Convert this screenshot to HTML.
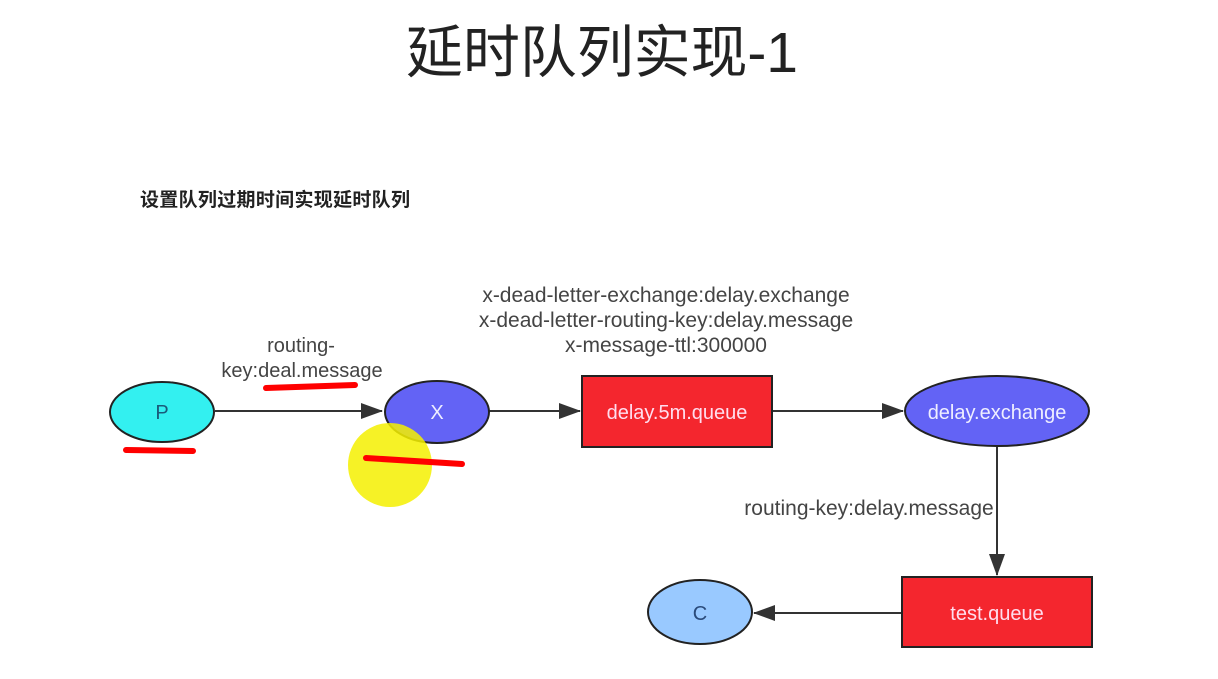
<!DOCTYPE html>
<html><head><meta charset="utf-8"><style>
body{margin:0;width:1218px;height:679px;background:#fff;overflow:hidden}
svg{display:block}
</style></head><body>
<svg width="1218" height="679" viewBox="0 0 1218 679" xmlns="http://www.w3.org/2000/svg">
<defs><marker id="b" markerWidth="22" markerHeight="16" refX="21" refY="8" orient="auto" markerUnits="userSpaceOnUse"><path d="M0,0 L22,8 L0,16 Z" fill="#333"/></marker></defs>
<text x="602" y="72" text-anchor="middle" font-family="Liberation Sans, Noto Sans CJK SC, sans-serif" font-size="57" fill="#222" textLength="392">延时队列实现-1</text>
<text x="140" y="206" font-family="Liberation Sans, Noto Sans CJK SC, sans-serif" font-size="19" font-weight="bold" fill="#222" textLength="270">设置队列过期时间实现延时队列</text>
<g font-family="Liberation Sans, sans-serif" font-size="21" fill="#444" text-anchor="middle">
<text x="301" y="352" font-size="20">routing-</text>
<text x="302" y="377" font-size="20">key:deal.message</text>
<text x="666" y="302">x-dead-letter-exchange:delay.exchange</text>
<text x="666" y="327">x-dead-letter-routing-key:delay.message</text>
<text x="666" y="352">x-message-ttl:300000</text>
<text x="869" y="515">routing-key:delay.message</text>
</g>
<g stroke="#333" stroke-width="2" fill="none">
<line x1="215" y1="411" x2="382" y2="411" marker-end="url(#b)"/>
<line x1="489" y1="411" x2="580" y2="411" marker-end="url(#b)"/>
<line x1="772" y1="411" x2="903" y2="411" marker-end="url(#b)"/>
<line x1="997" y1="447" x2="997" y2="575" marker-end="url(#b)"/>
<line x1="902" y1="613" x2="754" y2="613" marker-end="url(#b)"/>
</g>
<g stroke="#222" stroke-width="2">
<ellipse cx="162" cy="412" rx="52" ry="30" fill="#33f0f0"/>
<ellipse cx="437" cy="412" rx="52" ry="31" fill="#6363f5"/>
<rect x="582" y="376" width="190" height="71" fill="#f4262e"/>
<ellipse cx="997" cy="411" rx="92" ry="35" fill="#6363f5"/>
<rect x="902" y="577" width="190" height="70" fill="#f4262e"/>
<ellipse cx="700" cy="612" rx="52" ry="32" fill="#99c9ff"/>
</g>
<circle cx="390" cy="465" r="42" fill="#f5f000" opacity="0.85"/>
<g font-family="Liberation Sans, sans-serif" font-size="20" text-anchor="middle">
<text x="162" y="419" fill="#1a5a7a">P</text>
<text x="437" y="419" fill="#eef">X</text>
<text x="677" y="419" fill="#fde">delay.5m.queue</text>
<text x="997" y="419" fill="#eef">delay.exchange</text>
<text x="997" y="620" fill="#fde">test.queue</text>
<text x="700" y="620" fill="#2a4a7a">C</text>
</g>
<g stroke="#f00" stroke-width="6" stroke-linecap="round" fill="none">
<path d="M266,388 L355,385"/>
<path d="M126,450 L193,451"/>
<path d="M366,458 L462,464"/>
</g>
</svg>
</body></html>
